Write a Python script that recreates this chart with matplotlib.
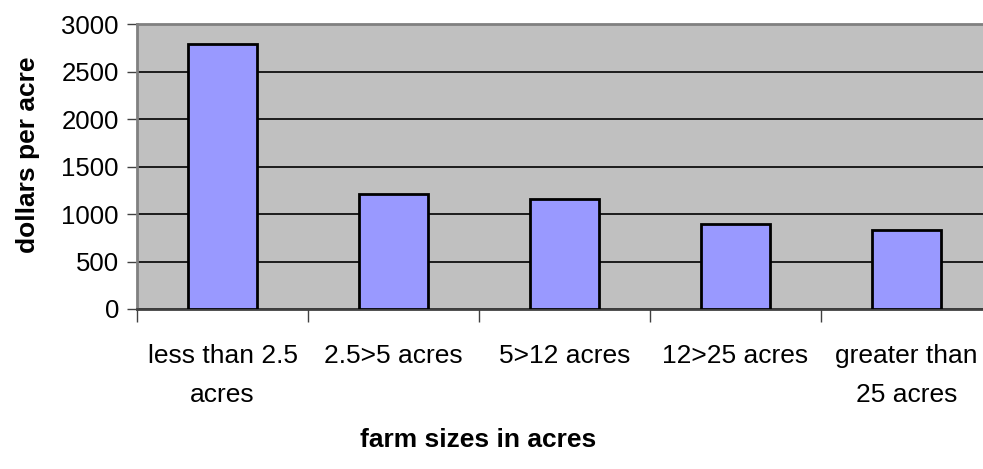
import matplotlib.pyplot as plt
import numpy as np

plt.rcParams['font.family'] = ['Liberation Sans', 'DejaVu Sans']

# farm size categories and land value per acre
categories = ['less than 2.5\nacres', '2.5>5 acres', '5>12 acres', '12>25 acres', 'greater than\n25 acres']
values = [2785, 1215, 1160, 892, 832]
y_ticks = [0, 500, 1000, 1500, 2000, 2500, 3000]

fig = plt.figure(figsize=(9.83, 4.69), dpi=100)
# plot area runs past the right edge of the image, like the source
ax = fig.add_axes([137 / 983, 1 - 309 / 469, 855 / 983, 285 / 469])
ax.set_facecolor('#C0C0C0')

x = np.arange(len(categories))
ax.bar(x, values, width=0.4, color='#9999FF', edgecolor='black', linewidth=2, zorder=3)

ax.set_xlim(-0.5, len(categories) - 0.5)
ax.set_ylim(0, 3000)
ax.set_yticks(y_ticks)
ax.yaxis.grid(True, color='black', linewidth=1.2, zorder=1)

# labels centred on the bars, tick marks on the category boundaries
ax.set_xticks(x)
ax.set_xticklabels(categories, fontsize=19, linespacing=1.8)
ax.tick_params(axis='x', which='major', length=0, pad=25)
ax.set_xticks(np.arange(-0.5, len(categories)), minor=True)
ax.tick_params(axis='x', which='minor', length=9, width=1, color='#404040', direction='out')
ax.tick_params(axis='y', length=7, width=1, color='#404040', direction='out', pad=6, labelsize=18.5)

for side in ['left', 'top', 'bottom']:
    ax.spines[side].set_color('#808080')
    ax.spines[side].set_linewidth(2)
ax.spines['bottom'].set_color('#404040')
ax.spines['right'].set_visible(False)

fig.text(28 / 983, 1 - 155 / 469, 'dollars per acre', rotation=90, fontsize=19,
         fontweight='bold', ha='center', va='center')
fig.text(478 / 983, 1 - 440 / 469, 'farm sizes in acres', fontsize=19,
         fontweight='bold', ha='center', va='center')

fig.savefig('out.png', dpi=100)
